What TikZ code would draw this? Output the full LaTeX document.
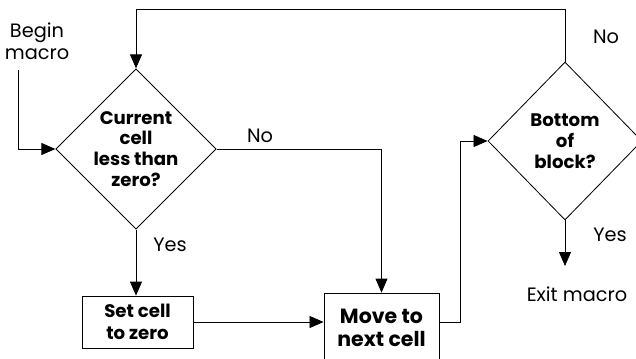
\documentclass[tikz,border=0pt]{standalone}
\usepackage{fontspec}
\setmainfont{Poppins}
\usetikzlibrary{arrows,arrows.meta,shapes}
\tikzstyle{flow}=[-{Triangle[length=0.42cm,width=0.36cm]}, line width=0.7pt]
\tikzstyle{decide}=[diamond, draw, line width=0.7pt, inner sep=0pt, minimum width=4.74cm, minimum height=4.74cm, align=center, font=\fontsize{15.5}{17.8}\selectfont\bfseries]
\tikzstyle{act}=[rectangle, draw, line width=0.7pt, align=center, font=\fontsize{15.5}{18.5}\selectfont\bfseries]
\tikzstyle{lbl}=[align=center, font=\fontsize{16.5}{18.5}\selectfont]

\begin{document}
\begin{tikzpicture}[x=0.03cm, y=-0.03cm]
\useasboundingbox (0,0) rectangle (636,358);
\node[decide] (Q1) at (136,149) {Current\\cell\\less than\\zero?};
\node[decide, minimum width=4.62cm] (Q2) at (565,141) {Bottom\\of\\block?};
\node[act, minimum width=3.33cm, minimum height=1.56cm] (Set) at (137.5,322) {Set cell\\to zero};
\node[act, minimum width=3.45cm, minimum height=2.1cm, font=\fontsize{17.5}{19.5}\selectfont\bfseries] (Move) at (381.5,328) {Move to\\next cell};
\node[lbl] (Begin) at (37,41) {Begin\\macro};
\node[lbl] (Exit) at (577,294) {Exit macro};
\node[lbl] (No1) at (260,136) {No};
\node[lbl] (Yes1) at (170,245) {Yes};
\node[lbl] (No2) at (606,37) {No};
\node[lbl] (Yes2) at (610,235) {Yes};
\coordinate (b0) at (18,70);
\coordinate (e0) at (565,266);
\draw[flow](b0) |- (Q1.west);
\draw[flow](Q1.south) -- (Q1.south |- Set.north);
\draw[flow](Q1.east) -| (Move.north);
\draw[flow](Set.east) -- (Set.east -| Move.west);
\draw[flow](Move.east |- Set.east) -- ++(21,0) |- (Q2.west);
\draw[flow](Q2.north) -- (Q2.north |- 0,9) -| (Q1.north);
\draw[flow](Q2.south) -- (e0);
\end{tikzpicture}
\end{document}
